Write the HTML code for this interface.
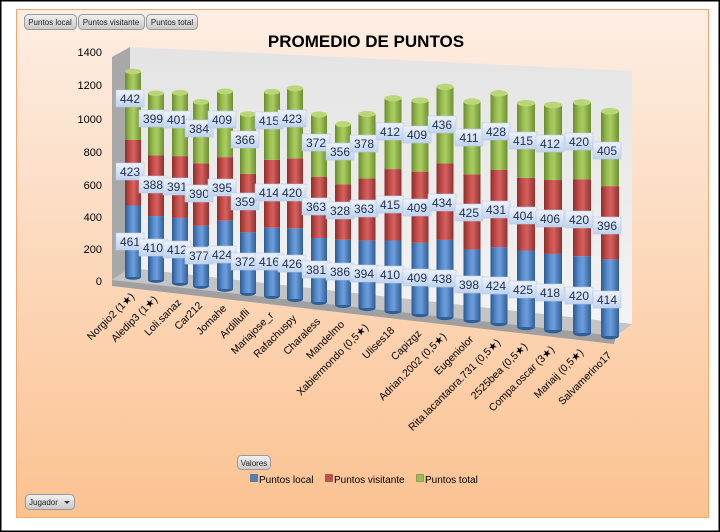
<!DOCTYPE html>
<html><head><meta charset="utf-8"><style>
html,body{margin:0;padding:0;background:#fff;}
svg{display:block;font-family:"Liberation Sans",sans-serif;}
</style></head><body>
<svg width="720" height="532" viewBox="0 0 720 532" xmlns="http://www.w3.org/2000/svg">
<defs>
<linearGradient id="bg" x1="0" y1="0" x2="0" y2="1"><stop offset="0" stop-color="#fdeee4"/><stop offset="1" stop-color="#fbc291"/></linearGradient>
<linearGradient id="gb" x1="0" y1="0" x2="1" y2="0"><stop offset="0" stop-color="#2c5a92"/><stop offset=".35" stop-color="#5b8fd0"/><stop offset=".55" stop-color="#6d9ddb"/><stop offset="1" stop-color="#2f5e98"/></linearGradient>
<linearGradient id="gr" x1="0" y1="0" x2="1" y2="0"><stop offset="0" stop-color="#8e2d2b"/><stop offset=".35" stop-color="#c9504d"/><stop offset=".55" stop-color="#d4615e"/><stop offset="1" stop-color="#913130"/></linearGradient>
<linearGradient id="gg" x1="0" y1="0" x2="1" y2="0"><stop offset="0" stop-color="#6b8c2c"/><stop offset=".35" stop-color="#9cc153"/><stop offset=".55" stop-color="#a9cc62"/><stop offset="1" stop-color="#6e8f30"/></linearGradient>
<linearGradient id="lb" x1="0" y1="0" x2="0" y2="1"><stop offset="0" stop-color="#eef3fb"/><stop offset="1" stop-color="#bfd3ee"/></linearGradient>
<linearGradient id="btn" x1="0" y1="0" x2="0" y2="1"><stop offset="0" stop-color="#f2f2f2"/><stop offset="1" stop-color="#c8c8c8"/></linearGradient>
<linearGradient id="wall" x1="0" y1="0" x2="0" y2="1"><stop offset="0" stop-color="#e4e4e4"/><stop offset="1" stop-color="#f3f3f3"/></linearGradient>
<g id="lab"><rect x="-14" y="-9" width="28" height="17" fill="url(#lb)" stroke="#b9c9e0" stroke-width=".6"/></g>
</defs>
<rect x="0.5" y="0.5" width="719" height="531" fill="#fff" stroke="#000" stroke-width="2"/>
<rect x="16.5" y="9.5" width="692" height="508" fill="url(#bg)" stroke="#f0a870" stroke-width="1"/>

<g font-size="8" fill="#222">
<rect x="24.5" y="14.5" width="52" height="15" rx="4" fill="url(#btn)" stroke="#999"/><text x="50" y="25" text-anchor="middle">Puntos local</text>
<rect x="78.5" y="14.5" width="66" height="15" rx="4" fill="url(#btn)" stroke="#999"/><text x="111" y="25" text-anchor="middle">Puntos visitante</text>
<rect x="146.5" y="14.5" width="51" height="15" rx="4" fill="url(#btn)" stroke="#999"/><text x="172" y="25" text-anchor="middle">Puntos total</text>
</g>

<text x="366" y="47" font-size="17" font-weight="bold" text-anchor="middle" fill="#000">PROMEDIO DE PUNTOS</text>

<polygon points="130,47 632,71 632,324 130,268" fill="url(#wall)"/>
<polygon points="112,57 130,47 130,268 112,280" fill="#a8a8a8"/>
<polygon points="112,280 130,268 632,324 616,336" fill="#c4c4c4"/>
<polygon points="112,280 616,336 614,344 112,286" fill="#a0a0a0"/>

<g font-size="11" fill="#000" text-anchor="end">
<text x="102" y="56">1400</text><text x="102" y="89">1200</text><text x="102" y="123">1000</text><text x="102" y="156">800</text><text x="102" y="189">600</text><text x="102" y="221">400</text><text x="102" y="253">200</text><text x="102" y="285">0</text>
</g>

<g>
<g transform="translate(133,277) scale(1,.155)"><ellipse cx="0" cy="0" rx="8" ry="18" fill="#2f5e98"/><rect x="-8" y="-461" width="16" height="461" fill="url(#gb)"/><rect x="-8" y="-884" width="16" height="423" fill="url(#gr)"/><rect x="-8" y="-1326" width="16" height="442" fill="url(#gg)"/><ellipse cx="0" cy="-1326" rx="8" ry="18" fill="#b9d777"/></g>
<g transform="translate(156,280) scale(1,.156)"><ellipse cx="0" cy="0" rx="8" ry="18" fill="#2f5e98"/><rect x="-8" y="-410" width="16" height="410" fill="url(#gb)"/><rect x="-8" y="-798" width="16" height="388" fill="url(#gr)"/><rect x="-8" y="-1197" width="16" height="399" fill="url(#gg)"/><ellipse cx="0" cy="-1197" rx="8" ry="18" fill="#b9d777"/></g>
<g transform="translate(180,283) scale(1,.158)"><ellipse cx="0" cy="0" rx="8" ry="18" fill="#2f5e98"/><rect x="-8" y="-412" width="16" height="412" fill="url(#gb)"/><rect x="-8" y="-803" width="16" height="391" fill="url(#gr)"/><rect x="-8" y="-1204" width="16" height="401" fill="url(#gg)"/><ellipse cx="0" cy="-1204" rx="8" ry="18" fill="#b9d777"/></g>
<g transform="translate(201,286) scale(1,.160)"><ellipse cx="0" cy="0" rx="8" ry="18" fill="#2f5e98"/><rect x="-8" y="-377" width="16" height="377" fill="url(#gb)"/><rect x="-8" y="-767" width="16" height="390" fill="url(#gr)"/><rect x="-8" y="-1151" width="16" height="384" fill="url(#gg)"/><ellipse cx="0" cy="-1151" rx="8" ry="18" fill="#b9d777"/></g>
<g transform="translate(225,289) scale(1,.161)"><ellipse cx="0" cy="0" rx="8" ry="18" fill="#2f5e98"/><rect x="-8" y="-424" width="16" height="424" fill="url(#gb)"/><rect x="-8" y="-819" width="16" height="395" fill="url(#gr)"/><rect x="-8" y="-1228" width="16" height="409" fill="url(#gg)"/><ellipse cx="0" cy="-1228" rx="8" ry="18" fill="#b9d777"/></g>
<g transform="translate(248,293) scale(1,.163)"><ellipse cx="0" cy="0" rx="8" ry="18" fill="#2f5e98"/><rect x="-8" y="-372" width="16" height="372" fill="url(#gb)"/><rect x="-8" y="-731" width="16" height="359" fill="url(#gr)"/><rect x="-8" y="-1097" width="16" height="366" fill="url(#gg)"/><ellipse cx="0" cy="-1097" rx="8" ry="18" fill="#b9d777"/></g>
<g transform="translate(272,296) scale(1,.164)"><ellipse cx="0" cy="0" rx="8" ry="18" fill="#2f5e98"/><rect x="-8" y="-416" width="16" height="416" fill="url(#gb)"/><rect x="-8" y="-830" width="16" height="414" fill="url(#gr)"/><rect x="-8" y="-1245" width="16" height="415" fill="url(#gg)"/><ellipse cx="0" cy="-1245" rx="8" ry="18" fill="#b9d777"/></g>
<g transform="translate(295,299) scale(1,.166)"><ellipse cx="0" cy="0" rx="8" ry="18" fill="#2f5e98"/><rect x="-8" y="-426" width="16" height="426" fill="url(#gb)"/><rect x="-8" y="-846" width="16" height="420" fill="url(#gr)"/><rect x="-8" y="-1269" width="16" height="423" fill="url(#gg)"/><ellipse cx="0" cy="-1269" rx="8" ry="18" fill="#b9d777"/></g>
<g transform="translate(319,302) scale(1,.168)"><ellipse cx="0" cy="0" rx="8" ry="18" fill="#2f5e98"/><rect x="-8" y="-381" width="16" height="381" fill="url(#gb)"/><rect x="-8" y="-744" width="16" height="363" fill="url(#gr)"/><rect x="-8" y="-1116" width="16" height="372" fill="url(#gg)"/><ellipse cx="0" cy="-1116" rx="8" ry="18" fill="#b9d777"/></g>
<g transform="translate(343,305) scale(1,.169)"><ellipse cx="0" cy="0" rx="8" ry="18" fill="#2f5e98"/><rect x="-8" y="-386" width="16" height="386" fill="url(#gb)"/><rect x="-8" y="-714" width="16" height="328" fill="url(#gr)"/><rect x="-8" y="-1070" width="16" height="356" fill="url(#gg)"/><ellipse cx="0" cy="-1070" rx="8" ry="18" fill="#b9d777"/></g>
<g transform="translate(367,308) scale(1,.171)"><ellipse cx="0" cy="0" rx="8.5" ry="18" fill="#2f5e98"/><rect x="-8.5" y="-394" width="17" height="394" fill="url(#gb)"/><rect x="-8.5" y="-757" width="17" height="363" fill="url(#gr)"/><rect x="-8.5" y="-1135" width="17" height="378" fill="url(#gg)"/><ellipse cx="0" cy="-1135" rx="8.5" ry="18" fill="#b9d777"/></g>
<g transform="translate(393,311) scale(1,.172)"><ellipse cx="0" cy="0" rx="8.5" ry="18" fill="#2f5e98"/><rect x="-8.5" y="-410" width="17" height="410" fill="url(#gb)"/><rect x="-8.5" y="-825" width="17" height="415" fill="url(#gr)"/><rect x="-8.5" y="-1237" width="17" height="412" fill="url(#gg)"/><ellipse cx="0" cy="-1237" rx="8.5" ry="18" fill="#b9d777"/></g>
<g transform="translate(420,314) scale(1,.174)"><ellipse cx="0" cy="0" rx="8.5" ry="18" fill="#2f5e98"/><rect x="-8.5" y="-409" width="17" height="409" fill="url(#gb)"/><rect x="-8.5" y="-818" width="17" height="409" fill="url(#gr)"/><rect x="-8.5" y="-1227" width="17" height="409" fill="url(#gg)"/><ellipse cx="0" cy="-1227" rx="8.5" ry="18" fill="#b9d777"/></g>
<g transform="translate(445,317) scale(1,.176)"><ellipse cx="0" cy="0" rx="8.5" ry="18" fill="#2f5e98"/><rect x="-8.5" y="-438" width="17" height="438" fill="url(#gb)"/><rect x="-8.5" y="-872" width="17" height="434" fill="url(#gr)"/><rect x="-8.5" y="-1308" width="17" height="436" fill="url(#gg)"/><ellipse cx="0" cy="-1308" rx="8.5" ry="18" fill="#b9d777"/></g>
<g transform="translate(472,320) scale(1,.177)"><ellipse cx="0" cy="0" rx="8.5" ry="18" fill="#2f5e98"/><rect x="-8.5" y="-398" width="17" height="398" fill="url(#gb)"/><rect x="-8.5" y="-823" width="17" height="425" fill="url(#gr)"/><rect x="-8.5" y="-1234" width="17" height="411" fill="url(#gg)"/><ellipse cx="0" cy="-1234" rx="8.5" ry="18" fill="#b9d777"/></g>
<g transform="translate(499,323) scale(1,.179)"><ellipse cx="0" cy="0" rx="8.5" ry="18" fill="#2f5e98"/><rect x="-8.5" y="-424" width="17" height="424" fill="url(#gb)"/><rect x="-8.5" y="-855" width="17" height="431" fill="url(#gr)"/><rect x="-8.5" y="-1283" width="17" height="428" fill="url(#gg)"/><ellipse cx="0" cy="-1283" rx="8.5" ry="18" fill="#b9d777"/></g>
<g transform="translate(526,327) scale(1,.180)"><ellipse cx="0" cy="0" rx="9" ry="18" fill="#2f5e98"/><rect x="-9" y="-425" width="18" height="425" fill="url(#gb)"/><rect x="-9" y="-829" width="18" height="404" fill="url(#gr)"/><rect x="-9" y="-1244" width="18" height="415" fill="url(#gg)"/><ellipse cx="0" cy="-1244" rx="9" ry="18" fill="#b9d777"/></g>
<g transform="translate(553,330) scale(1,.182)"><ellipse cx="0" cy="0" rx="9" ry="18" fill="#2f5e98"/><rect x="-9" y="-418" width="18" height="418" fill="url(#gb)"/><rect x="-9" y="-824" width="18" height="406" fill="url(#gr)"/><rect x="-9" y="-1236" width="18" height="412" fill="url(#gg)"/><ellipse cx="0" cy="-1236" rx="9" ry="18" fill="#b9d777"/></g>
<g transform="translate(582,333) scale(1,.183)"><ellipse cx="0" cy="0" rx="9" ry="18" fill="#2f5e98"/><rect x="-9" y="-420" width="18" height="420" fill="url(#gb)"/><rect x="-9" y="-840" width="18" height="420" fill="url(#gr)"/><rect x="-9" y="-1260" width="18" height="420" fill="url(#gg)"/><ellipse cx="0" cy="-1260" rx="9" ry="18" fill="#b9d777"/></g>
<g transform="translate(610,336) scale(1,.185)"><ellipse cx="0" cy="0" rx="9" ry="18" fill="#2f5e98"/><rect x="-9" y="-414" width="18" height="414" fill="url(#gb)"/><rect x="-9" y="-810" width="18" height="396" fill="url(#gr)"/><rect x="-9" y="-1215" width="18" height="405" fill="url(#gg)"/><ellipse cx="0" cy="-1215" rx="9" ry="18" fill="#b9d777"/></g>
</g>

<g font-size="12" fill="#1f2d4d" text-anchor="middle">
<g transform="translate(130,242)"><use href="#lab"/><text y="4">461</text></g><g transform="translate(130,172)"><use href="#lab"/><text y="4">423</text></g><g transform="translate(130,99)"><use href="#lab"/><text y="4">442</text></g>
<g transform="translate(153,248)"><use href="#lab"/><text y="4">410</text></g><g transform="translate(153,185)"><use href="#lab"/><text y="4">388</text></g><g transform="translate(153,119)"><use href="#lab"/><text y="4">399</text></g>
<g transform="translate(177,250)"><use href="#lab"/><text y="4">412</text></g><g transform="translate(177,187)"><use href="#lab"/><text y="4">391</text></g><g transform="translate(177,120)"><use href="#lab"/><text y="4">401</text></g>
<g transform="translate(199,256)"><use href="#lab"/><text y="4">377</text></g><g transform="translate(199,194)"><use href="#lab"/><text y="4">390</text></g><g transform="translate(199,129)"><use href="#lab"/><text y="4">384</text></g>
<g transform="translate(222,255)"><use href="#lab"/><text y="4">424</text></g><g transform="translate(222,188)"><use href="#lab"/><text y="4">395</text></g><g transform="translate(222,120)"><use href="#lab"/><text y="4">409</text></g>
<g transform="translate(245,262)"><use href="#lab"/><text y="4">372</text></g><g transform="translate(245,202)"><use href="#lab"/><text y="4">359</text></g><g transform="translate(245,140)"><use href="#lab"/><text y="4">366</text></g>
<g transform="translate(269,262)"><use href="#lab"/><text y="4">416</text></g><g transform="translate(269,193)"><use href="#lab"/><text y="4">414</text></g><g transform="translate(269,121)"><use href="#lab"/><text y="4">415</text></g>
<g transform="translate(292,264)"><use href="#lab"/><text y="4">426</text></g><g transform="translate(292,193)"><use href="#lab"/><text y="4">420</text></g><g transform="translate(292,119)"><use href="#lab"/><text y="4">423</text></g>
<g transform="translate(316,270)"><use href="#lab"/><text y="4">381</text></g><g transform="translate(316,207)"><use href="#lab"/><text y="4">363</text></g><g transform="translate(316,143)"><use href="#lab"/><text y="4">372</text></g>
<g transform="translate(340,272)"><use href="#lab"/><text y="4">386</text></g><g transform="translate(340,211)"><use href="#lab"/><text y="4">328</text></g><g transform="translate(340,152)"><use href="#lab"/><text y="4">356</text></g>
<g transform="translate(364,274)"><use href="#lab"/><text y="4">394</text></g><g transform="translate(364,209)"><use href="#lab"/><text y="4">363</text></g><g transform="translate(364,144)"><use href="#lab"/><text y="4">378</text></g>
<g transform="translate(390,275)"><use href="#lab"/><text y="4">410</text></g><g transform="translate(390,205)"><use href="#lab"/><text y="4">415</text></g><g transform="translate(390,132)"><use href="#lab"/><text y="4">412</text></g>
<g transform="translate(417,278)"><use href="#lab"/><text y="4">409</text></g><g transform="translate(417,208)"><use href="#lab"/><text y="4">409</text></g><g transform="translate(417,135)"><use href="#lab"/><text y="4">409</text></g>
<g transform="translate(442,279)"><use href="#lab"/><text y="4">438</text></g><g transform="translate(442,203)"><use href="#lab"/><text y="4">434</text></g><g transform="translate(442,125)"><use href="#lab"/><text y="4">436</text></g>
<g transform="translate(469,285)"><use href="#lab"/><text y="4">398</text></g><g transform="translate(469,213)"><use href="#lab"/><text y="4">425</text></g><g transform="translate(469,138)"><use href="#lab"/><text y="4">411</text></g>
<g transform="translate(496,286)"><use href="#lab"/><text y="4">424</text></g><g transform="translate(496,210)"><use href="#lab"/><text y="4">431</text></g><g transform="translate(496,132)"><use href="#lab"/><text y="4">428</text></g>
<g transform="translate(523,290)"><use href="#lab"/><text y="4">425</text></g><g transform="translate(523,216)"><use href="#lab"/><text y="4">404</text></g><g transform="translate(523,141)"><use href="#lab"/><text y="4">415</text></g>
<g transform="translate(550,293)"><use href="#lab"/><text y="4">418</text></g><g transform="translate(550,219)"><use href="#lab"/><text y="4">406</text></g><g transform="translate(550,144)"><use href="#lab"/><text y="4">412</text></g>
<g transform="translate(579,296)"><use href="#lab"/><text y="4">420</text></g><g transform="translate(579,220)"><use href="#lab"/><text y="4">420</text></g><g transform="translate(579,142)"><use href="#lab"/><text y="4">420</text></g>
<g transform="translate(607,300)"><use href="#lab"/><text y="4">414</text></g><g transform="translate(607,226)"><use href="#lab"/><text y="4">396</text></g><g transform="translate(607,151)"><use href="#lab"/><text y="4">405</text></g>
</g>

<g font-size="10.5" fill="#000" text-anchor="end" font-family="Liberation Sans, DejaVu Sans, sans-serif">
<text transform="translate(135,297) rotate(-45)">Norgio2 (1★)</text>
<text transform="translate(158,300) rotate(-45)">Aledip3 (1★)</text>
<text transform="translate(182,303) rotate(-45)">Loli.sanaz</text>
<text transform="translate(203,306) rotate(-45)">Car212</text>
<text transform="translate(227,309) rotate(-45)">Jomahe</text>
<text transform="translate(250,313) rotate(-45)">Ardillufli</text>
<text transform="translate(274,316) rotate(-45)">Mariajose_r</text>
<text transform="translate(297,319) rotate(-45)">Rafachuspy</text>
<text transform="translate(321,322) rotate(-45)">Charaless</text>
<text transform="translate(345,325) rotate(-45)">Mandelmo</text>
<text transform="translate(369,328) rotate(-45)">Xabiermondo (0,5★)</text>
<text transform="translate(395,331) rotate(-45)">Ulises18</text>
<text transform="translate(422,334) rotate(-45)">Capizgz</text>
<text transform="translate(447,337) rotate(-45)">Adrian.2002 (0,5★)</text>
<text transform="translate(474,340) rotate(-45)">Eugeniolor</text>
<text transform="translate(501,343) rotate(-45)">Rita.lacantaora.731 (0,5★)</text>
<text transform="translate(528,347) rotate(-45)">2525bea (0,5★)</text>
<text transform="translate(555,350) rotate(-45)">Compa.oscar (3★)</text>
<text transform="translate(584,353) rotate(-45)">Mariaij (0,5★)</text>
<text transform="translate(612,356) rotate(-45)">Salvamerino17</text>
</g>

<rect x="237.5" y="455.5" width="33" height="14" rx="4" fill="url(#btn)" stroke="#999"/>
<text x="254" y="466" font-size="8" text-anchor="middle" fill="#222">Valores</text>
<g font-size="10" fill="#000">
<rect x="250.5" y="474.5" width="7" height="7" fill="#4f81bd" stroke="#385d8a" stroke-width=".6"/><text x="259" y="483">Puntos local</text>
<rect x="325.5" y="474.5" width="7" height="7" fill="#c0504d" stroke="#8c3836" stroke-width=".6"/><text x="334" y="483">Puntos visitante</text>
<rect x="416.5" y="474.5" width="7" height="7" fill="#9bbb59" stroke="#71893f" stroke-width=".6"/><text x="425" y="483">Puntos total</text>
</g>
<rect x="25.5" y="494.5" width="49" height="15" rx="4" fill="url(#btn)" stroke="#999"/>
<text x="29" y="505" font-size="8" fill="#222">Jugador</text>
<path d="M64 501 L70 501 L67 504 Z" fill="#333"/>
</svg>
</body></html>
